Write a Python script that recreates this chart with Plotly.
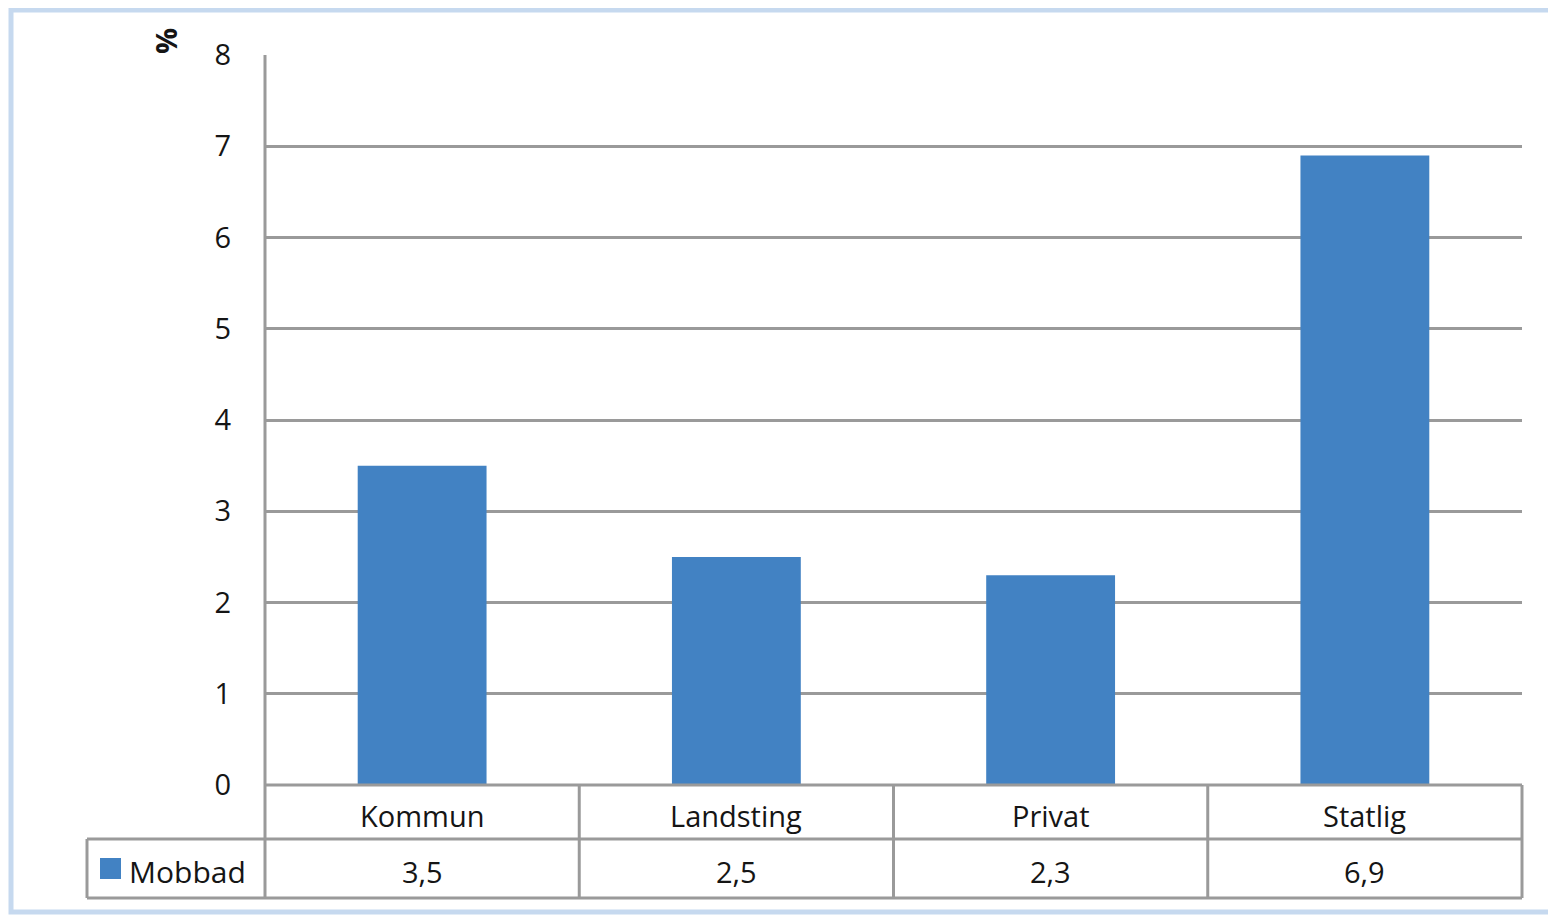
import plotly.graph_objects as go

categories = ["Kommun", "Landsting", "Privat", "Statlig"]
mobbad = [3.5, 2.5, 2.3, 6.9]
series_name = "Mobbad"
y_ticks = [0, 1, 2, 3, 4, 5, 6, 7, 8]
y_title = "%"

OFF = 8  # page body offset
W, H = 1556 - OFF, 915 - OFF
# plot area in page px (reference coordinates)
PL, PR, PT, PB = 265, 1522, 55, 785
L, R, T, B = PL - OFF, PR - OFF, PT - OFF, PB - OFF


def px(x):
    return (x - PL) / (PR - PL)


def py(y):
    return (PB - y) / (PB - PT)


FONT = "'Open Sans', Lato, sans-serif"
BAR = "#4282c3"
LINE = "#9a9a9a"
TXT = "#151515"

fig = go.Figure()
fig.add_trace(go.Bar(
    x=categories, y=mobbad, name=series_name,
    marker=dict(color=BAR, line=dict(width=0)),
    showlegend=False,
))

shapes = []
# outer chart frame (light blue)
shapes.append(dict(type="rect", xref="paper", yref="paper",
                   x0=px(11), x1=px(1575), y0=py(912), y1=py(10),
                   line=dict(color="#c6d9ef", width=5), layer="below"))
# left axis line extending into table
shapes.append(dict(type="line", xref="paper", yref="paper",
                   x0=px(265), x1=px(265), y0=py(898), y1=py(55),
                   line=dict(color=LINE, width=3)))
# table horizontal lines
shapes.append(dict(type="line", xref="paper", yref="paper",
                   x0=px(265), x1=px(1522), y0=py(785), y1=py(785),
                   line=dict(color=LINE, width=3)))
shapes.append(dict(type="line", xref="paper", yref="paper",
                   x0=px(87), x1=px(1522), y0=py(839), y1=py(839),
                   line=dict(color=LINE, width=3)))
shapes.append(dict(type="line", xref="paper", yref="paper",
                   x0=px(87), x1=px(1522), y0=py(898), y1=py(898),
                   line=dict(color=LINE, width=3)))
# left edge of legend cell
shapes.append(dict(type="line", xref="paper", yref="paper",
                   x0=px(87), x1=px(87), y0=py(898), y1=py(839),
                   line=dict(color=LINE, width=3)))
# vertical dividers
n = len(categories)
for i in range(1, n + 1):
    xf = i / n
    shapes.append(dict(type="line", xref="paper", yref="paper",
                       x0=xf, x1=xf, y0=py(898), y1=py(785),
                       line=dict(color=LINE, width=3)))
# legend key
shapes.append(dict(type="rect", xref="paper", yref="paper",
                   x0=px(100), x1=px(121), y0=py(879), y1=py(858),
                   fillcolor=BAR, line=dict(width=0)))

annotations = []
for i, (c, v) in enumerate(zip(categories, mobbad)):
    xc = (i + 0.5) / n
    annotations.append(dict(xref="paper", yref="paper", x=xc, y=py(815),
                            text=c, showarrow=False, xanchor="center", yanchor="middle",
                            font=dict(family=FONT, size=29, color=TXT)))
    annotations.append(dict(xref="paper", yref="paper", x=xc, y=py(872),
                            text=f"{v:.1f}".replace(".", ","), showarrow=False,
                            xanchor="center", yanchor="middle",
                            font=dict(family=FONT, size=29, color=TXT)))
annotations.append(dict(xref="paper", yref="paper", x=px(127), y=py(871),
                        text=series_name, showarrow=False, xanchor="left", yanchor="middle",
                        font=dict(family=FONT, size=30, color=TXT)))
annotations.append(dict(xref="paper", yref="paper", x=px(166), y=py(41),
                        text=f"<b>{y_title}</b>", showarrow=False, textangle=-90,
                        xanchor="center", yanchor="middle",
                        font=dict(family=FONT, size=29, color=TXT)))

fig.update_layout(
    width=W, height=H,
    margin=dict(l=L, r=W - R, t=T, b=H - B, pad=0),
    paper_bgcolor="white", plot_bgcolor="white",
    bargap=0.59,
    font=dict(family=FONT, size=29, color=TXT),
    xaxis=dict(showticklabels=False, showgrid=False, showline=False, zeroline=False,
               ticks=""),
    yaxis=dict(range=[0, 8], tickvals=y_ticks, showgrid=True, gridcolor=LINE, gridwidth=3,
               zeroline=False, showline=False, ticks="", ticklabelstandoff=33,
               tickfont=dict(family=FONT, size=29, color=TXT)),
    shapes=shapes,
    annotations=annotations,
)

fig.write_html("out.html")
